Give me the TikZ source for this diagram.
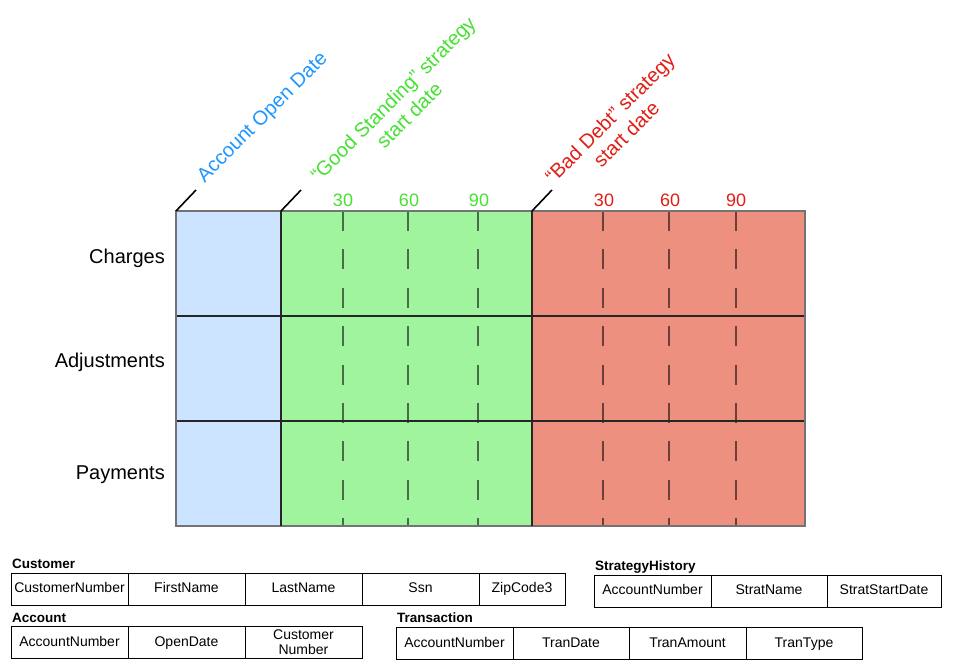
\documentclass[tikz,border=0pt]{standalone}
\usepackage{fontspec}
\setmainfont{Liberation Sans}
\definecolor{cblue}{RGB}{204,228,255}
\definecolor{cgreen}{RGB}{160,244,158}
\definecolor{cred}{RGB}{237,144,128}
\definecolor{tblue}{RGB}{30,150,255}
\definecolor{tgreen}{RGB}{70,225,50}
\definecolor{tred}{RGB}{225,30,20}
\tikzset{
  rowlab/.style={anchor=base east, font=\fontsize{20}{23}\selectfont, inner sep=0pt},
  daylab/.style={anchor=base, font=\fontsize{18}{21}\selectfont, inner sep=0pt},
  rotlab/.style={rotate=45, align=center, font=\fontsize{20}{23}\selectfont, inner sep=0pt},
  tick/.style={line width=1.6pt, black},
  dashline/.style={line width=1.8pt, black, opacity=0.55, dash pattern=on 20pt off 18.4pt},
  cellbase/.style={draw=black, line width=1pt, minimum height=32pt, inner sep=1pt, align=center, font=\fontsize{14}{15}\selectfont, anchor=center},
  cell/.style={cellbase, text height=10pt, text depth=3pt},
  thead/.style={anchor=base west, inner sep=0pt, font=\fontsize{13.5}{15}\selectfont\bfseries},
}
\begin{document}
\begin{tikzpicture}[x=1pt,y=-1pt]
\useasboundingbox (0,0) rectangle (960,667);
% column fills
\fill[cblue] (176,211) rectangle (281,526);
\fill[cgreen] (281,211) rectangle (532,526);
\fill[cred] (532,211) rectangle (805,526);
% dashed day lines
\foreach \x in {343,408,478,603,669,736}
  \draw[dashline] (\x,211) -- (\x,526);
% grid
\foreach \y in {316,421} \draw[line width=1.6pt, black!85] (176,\y) -- (805,\y);
\draw[line width=1.8pt, black!55] (176,211) rectangle (805,526);
\foreach \x in {281,532} \draw[line width=1.6pt, black!85] (\x,211) -- (\x,526);
% ticks
\coordinate (t1a) at (176,211); \coordinate (t1b) at (196,190);
\coordinate (t2a) at (281,211); \coordinate (t2b) at (301,190);
\coordinate (t3a) at (532,211); \coordinate (t3b) at (552,190);
\draw[tick] (t1a) -- (t1b);
\draw[tick] (t2a) -- (t2b);
\draw[tick] (t3a) -- (t3b);
% rotated labels
\node[rotlab, text=tblue] (lopen) at (263,118) {Account Open Date};
\node[rotlab, text=tgreen] (lgood) at (401,107) {“Good Standing” strategy\\start date};
\node[rotlab, text=tred] (lbad) at (618,126) {“Bad Debt” strategy\\start date};
% day labels
\node[daylab, text=tgreen] (g30) at (343,206) {30};
\node[daylab, text=tgreen] (g60) at (409,206) {60};
\node[daylab, text=tgreen] (g90) at (479,206) {90};
\node[daylab, text=tred] (r30) at (604,206) {30};
\node[daylab, text=tred] (r60) at (670,206) {60};
\node[daylab, text=tred] (r90) at (736,206) {90};
% row labels
\node[rowlab] (charges) at (165,263) {Charges};
\node[rowlab] (adjust) at (165,367) {Adjustments};
\node[rowlab] (pay) at (165,479) {Payments};
% tables
\node[thead] (hcust) at (12,568) {Customer};
\foreach \a/\b/\t [count=\i] in {11/128/CustomerNumber,128/245/FirstName,245/362/LastName,362/479/Ssn,479/565/ZipCode3}
  \node[cell, minimum width={(\b-\a)*1pt}] (cust\i) at ({(\a+\b)/2},589) {\t};
\node[thead] (hacct) at (12,622) {Account};
\foreach \a/\b/\t [count=\i] in {11/128/AccountNumber,128/245/OpenDate}
  \node[cell, minimum width={(\b-\a)*1pt}] (acct\i) at ({(\a+\b)/2},642.5) {\t};
\node[cellbase, minimum width=117pt] (acct3) at (303.5,642.5) {Customer\\Number};
\node[thead] (htran) at (397,622) {Transaction};
\foreach \a/\b/\t [count=\i] in {396/513/AccountNumber,513/629/TranDate,629/746/TranAmount,746/862/TranType}
  \node[cell, minimum width={(\b-\a)*1pt}] (tran\i) at ({(\a+\b)/2},643.5) {\t};
\node[thead] (hstrat) at (595,570) {StrategyHistory};
\foreach \a/\b/\t [count=\i] in {594/711/AccountNumber,711/827/StratName,827/941/StratStartDate}
  \node[cell, minimum width={(\b-\a)*1pt}] (strat\i) at ({(\a+\b)/2},591) {\t};
\end{tikzpicture}
\end{document}
